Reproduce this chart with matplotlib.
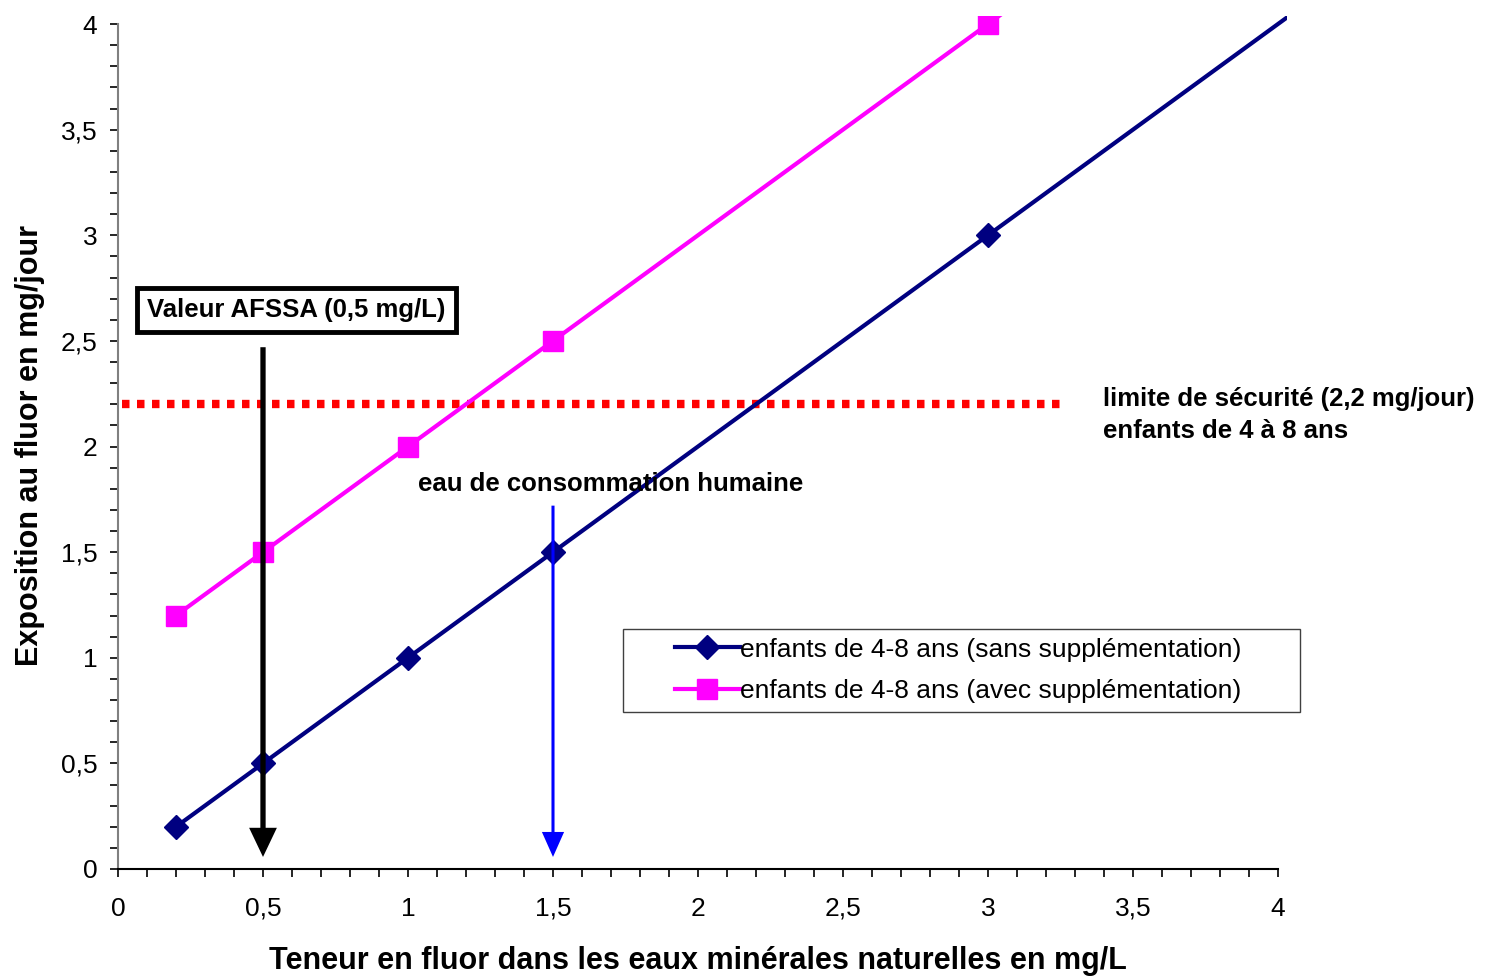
import matplotlib
matplotlib.use("Agg")
import matplotlib.pyplot as plt
from matplotlib.patches import Rectangle
from matplotlib.ticker import MultipleLocator, FuncFormatter

plt.rcParams['font.family'] = ['Liberation Sans', 'DejaVu Sans']

# données
teneur = [0.2, 0.5, 1, 1.5, 3, 5]
sans_suppl = [0.2, 0.5, 1, 1.5, 3, 5]
avec_suppl = [1.2, 1.5, 2, 2.5, 4, 6]
limite = 2.2
limite_x = [0.015, 3.27]
afssa = 0.5
eau_conso = 1.5

fig = plt.figure(figsize=(14.86, 9.76), dpi=100)
ax = fig.add_axes([118 / 1486, 107 / 976, 1160 / 1486, 845 / 976])

l1, = ax.plot(teneur, sans_suppl, color='#000080', lw=3, marker='D', ms=12,
              label="enfants de 4-8 ans (sans supplémentation)", zorder=3)
l2, = ax.plot(teneur, avec_suppl, color='#FF00FF', lw=3, marker='s', ms=14,
              label="enfants de 4-8 ans (avec supplémentation)", zorder=3)
# les courbes dépassent un peu la zone de tracé (comme dans Excel)
for ln in (l1, l2):
    ln.set_clip_path(Rectangle((0, 0), 1.008, 1.009, transform=ax.transAxes))

ax.plot(limite_x, [limite, limite], color='red', lw=6, dashes=(0.9, 0.9),
        solid_capstyle='butt', dash_capstyle='butt', zorder=2)

ax.annotate('', xy=(afssa, 0.057), xytext=(afssa, 2.47),
            arrowprops=dict(width=3.8, headwidth=20, headlength=21,
                            facecolor='black', edgecolor='none', shrink=0), zorder=4)
ax.annotate('', xy=(eau_conso, 0.057), xytext=(eau_conso, 1.72),
            arrowprops=dict(width=2.2, headwidth=16, headlength=18,
                            facecolor='#0000FF', edgecolor='none', shrink=0), zorder=4)

ax.text(0.1, 2.646, "Valeur AFSSA (0,5 mg/L)", fontsize=18.5, fontweight='bold',
        va='center', ha='left',
        bbox=dict(boxstyle='square,pad=0.4', fc='white', ec='black', lw=3.5))
ax.text(1.7, 1.822, "eau de consommation humaine", fontsize=18.5,
        fontweight='bold', ha='center', va='center', zorder=5)
fig.text(1103 / 1486, 1 - 415 / 976, "limite de sécurité (2,2 mg/jour)\nenfants de 4 à 8 ans",
         fontsize=18.5, fontweight='bold', ha='left', va='center', linespacing=1.4)

ax.set_xlim(0, 4)
ax.set_ylim(0, 4)
ax.xaxis.set_major_locator(MultipleLocator(0.5))
ax.xaxis.set_minor_locator(MultipleLocator(0.1))
ax.yaxis.set_major_locator(MultipleLocator(0.5))
ax.yaxis.set_minor_locator(MultipleLocator(0.1))
virgule = FuncFormatter(lambda v, p: f"{v:g}".replace('.', ','))
ax.xaxis.set_major_formatter(virgule)
ax.yaxis.set_major_formatter(virgule)

ax.spines['top'].set_visible(False)
ax.spines['right'].set_visible(False)
ax.spines['left'].set_color('#808080')
ax.spines['left'].set_linewidth(1.5)
ax.spines['bottom'].set_linewidth(1.5)
ax.tick_params(which='both', direction='out', width=1.2, labelsize=19)
ax.tick_params(axis='y', which='both', length=6, pad=9)
ax.tick_params(axis='x', which='both', length=6, pad=14)

ax.set_xlabel("Teneur en fluor dans les eaux minérales naturelles en mg/L",
              fontsize=22, fontweight='bold', labelpad=18)
fig.text(30 / 1486, 1 - 446 / 976, "Exposition au fluor en mg/jour", fontsize=22,
         fontweight='bold', rotation=90, ha='center', va='center')

leg = fig.legend(handles=[l1, l2], loc='center left',
                 bbox_to_anchor=(675 / 1486, 1 - 670.5 / 976),
                 fontsize=19, frameon=False, handlelength=2.45,
                 handletextpad=0.03, borderpad=0, borderaxespad=0, labelspacing=0.68)
fig.patches.append(Rectangle((623 / 1486, 1 - 712 / 976), 677 / 1486, 83 / 976,
                             transform=fig.transFigure, fill=False,
                             ec='#404040', lw=1))

fig.savefig("out.png", dpi=100)
